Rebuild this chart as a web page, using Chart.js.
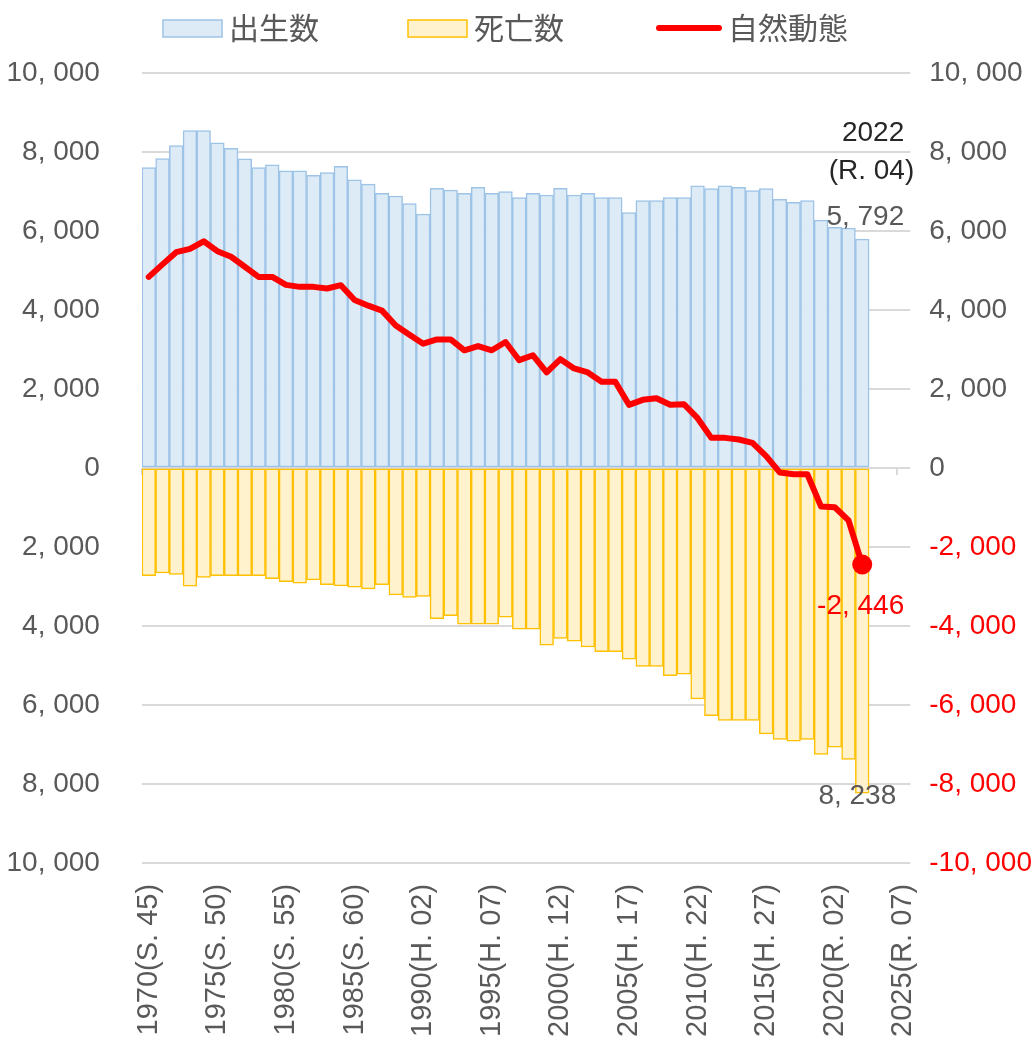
<!DOCTYPE html>
<html>
<head>
<meta charset="utf-8">
<script src="https://cdn.jsdelivr.net/npm/chart.js@4"></script>
<style>
  html, body { margin: 0; background: #fff; }
  #wrap { width: 1033px; height: 1041px; }
</style>
</head>
<body>
<div id="wrap"><canvas id="chart"></canvas></div>
<script>
// categories: 1970 .. 2025 (data up to 2022)
const years = [1970, 1971, 1972, 1973, 1974, 1975, 1976, 1977, 1978, 1979,
  1980, 1981, 1982, 1983, 1984, 1985, 1986, 1987, 1988, 1989,
  1990, 1991, 1992, 1993, 1994, 1995, 1996, 1997, 1998, 1999,
  2000, 2001, 2002, 2003, 2004, 2005, 2006, 2007, 2008, 2009,
  2010, 2011, 2012, 2013, 2014, 2015, 2016, 2017, 2018, 2019,
  2020, 2021, 2022, 2023, 2024, 2025];

// x tick labels, one every 5 years
const yearLabels = ['1970(S. 45)', '1975(S. 50)', '1980(S. 55)', '1985(S. 60)',
  '1990(H. 02)', '1995(H. 07)', '2000(H. 12)', '2005(H. 17)',
  '2010(H. 22)', '2015(H. 27)', '2020(R. 02)', '2025(R. 07)'];

// 出生数
const births = [7605, 7831, 8165, 8541, 8541, 8233, 8090, 7824, 7605, 7673,
  7522, 7522, 7412, 7480, 7638, 7297, 7186, 6953, 6885, 6694,
  6426, 7078, 7036, 6953, 7103, 6953, 6995, 6845, 6953, 6911,
  7078, 6911, 6953, 6845, 6845, 6468, 6770, 6770, 6845, 6845,
  7146, 7071, 7146, 7103, 7020, 7071, 6802, 6727, 6770, 6275,
  6092, 6074, 5792];

// 死亡数 (drawn below zero)
const deaths = [2728, 2661, 2694, 2995, 2770, 2728, 2728, 2728, 2728, 2803,
  2878, 2920, 2836, 2954, 2987, 3020, 3062, 2954, 3213, 3280,
  3255, 3815, 3740, 3958, 3958, 3958, 3782, 4083, 4083, 4485,
  4317, 4384, 4535, 4652, 4652, 4844, 5028, 5028, 5263, 5221,
  5848, 6275, 6392, 6392, 6392, 6735, 6877, 6919, 6877, 7254,
  7070, 7379, 8238];

// 自然動態
const natural = [4837, 5154, 5463, 5547, 5739, 5489, 5346, 5095, 4837, 4837,
  4635, 4585, 4585, 4543, 4627, 4250, 4108, 3983, 3607, 3371,
  3145, 3255, 3255, 2979, 3087, 2979, 3188, 2728, 2853, 2418,
  2753, 2518, 2418, 2184, 2184, 1598, 1724, 1765, 1598, 1614,
  1260, 761, 761, 720, 635, 301, -118, -159, -159, -979,
  -996, -1330, -2446];

const lastIdx = natural.length - 1;
const NUM_FONT = "'Liberation Sans', Arial, sans-serif";
const JP_FONT = "'Noto Sans CJK JP', sans-serif";
const GREY = '#595959';

function fmt(v) {
  return Math.abs(v).toLocaleString('en-US').replace(',', ', ');
}

// legend drawn by hand so the spacing matches
const legendBar = {
  id: 'legendBar',
  afterDraw(chart) {
    const ctx = chart.ctx;
    const ds = chart.data.datasets;
    const y = 28;
    const xs = [163, 408, 656];
    ctx.save();
    ctx.font = '30px ' + JP_FONT;
    ctx.textBaseline = 'middle';
    ctx.textAlign = 'left';
    ds.forEach((d, i) => {
      const x = xs[i];
      if (d.type === 'line') {
        ctx.strokeStyle = d.borderColor;
        ctx.lineWidth = 6;
        ctx.lineCap = 'round';
        ctx.beginPath();
        ctx.moveTo(x + 3, y);
        ctx.lineTo(x + 63, y);
        ctx.stroke();
        ctx.fillStyle = GREY;
        ctx.fillText(d.label, x + 72, y);
      } else {
        ctx.fillStyle = d.backgroundColor;
        ctx.strokeStyle = d.borderColor;
        ctx.lineWidth = 1.5;
        ctx.fillRect(x, y - 8, 59, 17);
        ctx.strokeRect(x, y - 8, 59, 17);
        ctx.fillStyle = GREY;
        ctx.fillText(d.label, x + 66, y);
      }
    });
    ctx.restore();
  }
};

// end-of-series labels
const notes = {
  id: 'notes',
  afterDatasetsDraw(chart) {
    const { ctx, scales: { x, y } } = chart;
    const px = x.getPixelForValue(lastIdx);
    const pb = y.getPixelForValue(births[lastIdx]);
    ctx.save();
    ctx.textAlign = 'right';
    ctx.textBaseline = 'middle';
    ctx.font = '28px ' + NUM_FONT;
    ctx.fillStyle = '#262626';
    ctx.fillText(String(years[lastIdx]), px + 42, pb - 106);
    ctx.fillText('(R. 04)', px + 52, pb - 68);
    ctx.fillStyle = GREY;
    ctx.fillText(fmt(births[lastIdx]), px + 42, pb - 22);
    ctx.fillStyle = '#ff0000';
    ctx.fillText('-' + fmt(natural[lastIdx]), px + 42, y.getPixelForValue(natural[lastIdx]) + 42);
    ctx.fillStyle = GREY;
    ctx.fillText(fmt(deaths[lastIdx]), px + 34, y.getPixelForValue(-deaths[lastIdx]) + 3);
    ctx.restore();
  }
};

new Chart(document.getElementById('chart'), {
  type: 'bar',
  data: {
    labels: years,
    datasets: [{
      label: '出生数',
      data: births,
      backgroundColor: '#ddebf7',
      borderColor: '#9dc3e6',
      borderWidth: 1.5,
      borderSkipped: false,
      barPercentage: 1,
      categoryPercentage: 1,
      order: 2
    }, {
      label: '死亡数',
      data: deaths.map(v => -v),
      backgroundColor: '#fff2cc',
      borderColor: '#ffc000',
      borderWidth: 1.5,
      borderSkipped: false,
      barPercentage: 1,
      categoryPercentage: 1,
      order: 2
    }, {
      type: 'line',
      label: '自然動態',
      data: natural,
      borderColor: '#ff0000',
      backgroundColor: '#ff0000',
      borderWidth: 6,
      borderJoinStyle: 'round',
      borderCapStyle: 'round',
      tension: 0,
      pointRadius: ctx => ctx.dataIndex === lastIdx ? 10 : 0,
      pointHoverRadius: 0,
      pointBackgroundColor: '#ff0000',
      pointBorderWidth: 0,
      order: 0
    }]
  },
  options: {
    responsive: true,
    maintainAspectRatio: false,
    animation: false,
    layout: { padding: { left: -35.5, right: -18, top: 73, bottom: -9 } },
    plugins: {
      tooltip: { enabled: false },
      legend: { display: false }
    },
    scales: {
      x: {
        stacked: true,
        offset: true,
        grid: { display: false, offset: true },
        border: { display: false },
        ticks: {
          autoSkip: false,
          minRotation: 90,
          maxRotation: 90,
          padding: 13,
          color: GREY,
          font: { size: 29, family: NUM_FONT },
          callback: (v, i) => i % 5 === 0 ? yearLabels[i / 5] : ''
        }
      },
      xt: {
        type: 'category',
        position: { y: 0 },
        offset: true,
        grid: {
          offset: true,
          drawOnChartArea: false,
          tickLength: 7,
          lineWidth: 2,
          color: ctx => ctx.index % 5 === 0 ? '#d9d9d9' : 'rgba(0,0,0,0)'
        },
        border: { display: false },
        ticks: { display: false, autoSkip: false }
      },
      y: {
        min: -10000,
        max: 10000,
        grid: { color: '#d9d9d9', lineWidth: 2, drawTicks: false },
        border: { display: false },
        ticks: {
          stepSize: 2000,
          padding: 42,
          color: GREY,
          font: { size: 28, family: NUM_FONT },
          callback: v => fmt(v)
        }
      },
      y2: {
        position: 'right',
        min: -10000,
        max: 10000,
        grid: { display: false, drawTicks: false },
        border: { display: false },
        ticks: {
          stepSize: 2000,
          padding: 19,
          color: ctx => ctx.tick.value < 0 ? '#ff0000' : GREY,
          font: { size: 28, family: NUM_FONT },
          callback: v => (v < 0 ? '-' : '') + fmt(v)
        }
      }
    }
  },
  plugins: [notes, legendBar]
});
</script>
</body>
</html>
